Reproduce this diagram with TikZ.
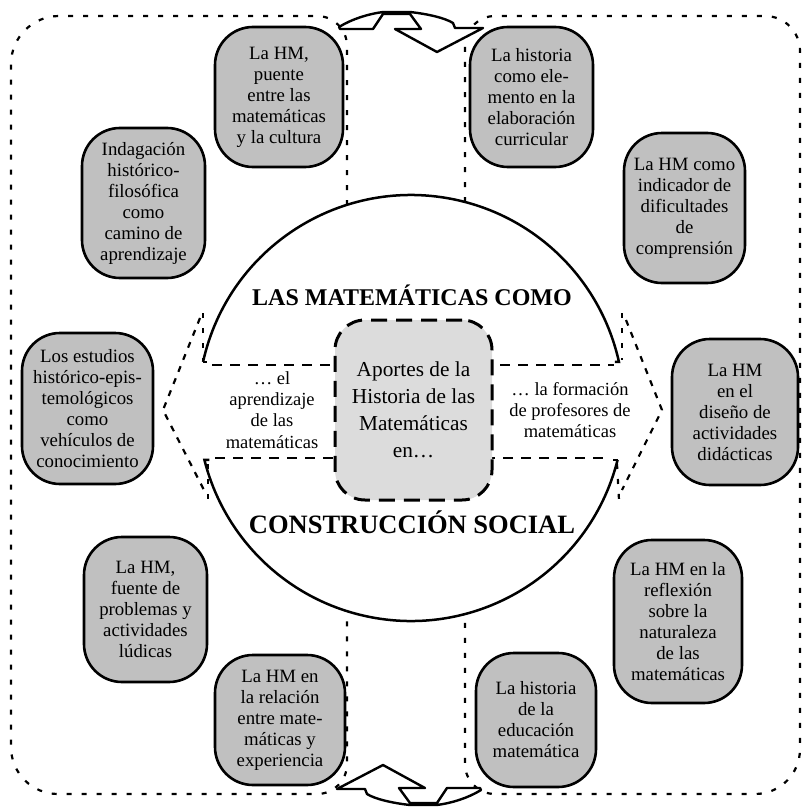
\documentclass[tikz,border=0pt]{standalone}
\usepackage{fontspec}
\setmainfont{Liberation Serif}
\definecolor{boxgray}{HTML}{C0C0C0}
\definecolor{centergray}{HTML}{DCDCDC}
\begin{document}
\begin{tikzpicture}[x=1pt,y=-1pt,
  frame/.style={line width=2.2pt, dash pattern=on 5pt off 10pt},
  chev/.style={line width=2.2pt, dash pattern=on 6pt off 7pt},
  band/.style={line width=2.6pt, dash pattern=on 10pt off 8pt},
  circ/.style={line width=2.5pt},
  arrowshape/.style={draw, fill=white, line width=2.4pt, line join=round},
  gbox/.style={draw, line width=2.6pt, fill=boxgray, rounded corners=38pt, align=center, inner sep=0pt, font=\fontsize{18.8}{21}\selectfont},
  cbox/.style={draw, line width=3pt, dash pattern=on 16pt off 9pt, fill=centergray, rounded corners=30pt, align=center, inner sep=0pt, font=\fontsize{21.3}{27}\selectfont},
  bandtext/.style={align=center, inner sep=0pt, font=\fontsize{18.5}{21.2}\selectfont},
  title/.style={inner sep=0pt, font=\bfseries\fontsize{24}{28}\selectfont}
]
\useasboundingbox (0,0) rectangle (802,808);

% outer frame, left half (open where the circle is)
\draw[frame] (347,205) -- (347,46) .. controls (347,29.4) and (333.6,16) .. (317,16) -- (59,16)
  .. controls (32.5,16) and (11,37.5) .. (11,64) -- (11,747)
  .. controls (11,773) and (32,794) .. (58,794) -- (317,794)
  .. controls (333.6,794) and (347,780.6) .. (347,764) -- (347,611);
% outer frame, right half
\draw[frame] (465,202) -- (465,46) .. controls (465,29.4) and (478.4,16) .. (495,16) -- (765,16)
  .. controls (784.3,16) and (800,31.7) .. (800,51) -- (800,749)
  .. controls (800,773.9) and (779.9,794) .. (755,794) -- (495,794)
  .. controls (478.4,794) and (465,780.6) .. (465,764) -- (465,614);

% top and bottom bent arrows
\path[arrowshape] (339,27) .. controls (352,19) and (368,14) .. (383,12) -- (410,12)
  .. controls (428,14) and (445,18) .. (453,23) -- (455,28) -- (483,28) -- (437,52)
  -- (395,29) -- (421,29) -- (410,14) -- (383,14) -- (373,29) -- (340,29) -- cycle;
\begin{scope}[rotate around={180:(410,408.5)}]
\path[arrowshape] (339,27) .. controls (352,19) and (368,14) .. (383,12) -- (410,12)
  .. controls (428,14) and (445,18) .. (453,23) -- (455,28) -- (483,28) -- (437,52)
  -- (395,29) -- (421,29) -- (410,14) -- (383,14) -- (373,29) -- (340,29) -- cycle;
\end{scope}

% circle arcs
\draw[circ] (411,408) ++(192.5:213) arc[start angle=192.5, end angle=347.5, radius=213] -- ++(-4,0);
\draw[circ] (411,408) ++(14.1:213) arc[start angle=14.1, end angle=165.9, radius=213] -- ++(5,0);
\draw[circ] (411,408) ++(192.5:213) -- ++(4,0);
\draw[circ] (411,408) ++(14.1:213) -- ++(-5,0);

% left and right arrow heads of the band
\draw[frame] (203,313) -- (203,360);
\draw[frame] (208,464) -- (208,504);
\draw[chev] (200,318) -- (163,410) -- (205,492);
\draw[frame] (622,313) -- (622,360);
\draw[frame] (617,464) -- (619,500);
\draw[chev] (626,320) -- (662,410) -- (622,490);

% band
\draw[band] (212,365) -- (614,365);
\draw[band] (215,458) -- (610,458);

% center
\node[cbox, minimum width=157pt, minimum height=180pt] (center) at (413.5,410)
  {Aportes de la\\Historia de las\\Matemáticas\\en…};
\node[bandtext] (left) at (272,410) {… el\\aprendizaje\\de las\\matemáticas};
\node[bandtext] (right) at (570,410) {… la formación\\de profesores de\\matemáticas};

\node[title] (t1) at (412,295) {LAS MATEMÁTICAS COMO};
\node[title, font=\bfseries\fontsize{26.5}{30}\selectfont] (t2) at (412,522) {CONSTRUCCIÓN SOCIAL};

% gray boxes
\node[gbox, minimum width=128pt, minimum height=140pt] (b1) at (279,97)
  {La HM,\\puente\\entre las\\matemáticas\\y la cultura};
\node[gbox, minimum width=123pt, minimum height=140pt] (b2) at (531.5,97)
  {La historia\\como ele-\\mento en la\\elaboración\\curricular};
\node[gbox, minimum width=123pt, minimum height=150pt] (b3) at (143.5,203)
  {Indagación\\histórico-\\filosófica\\como\\camino de\\aprendizaje};
\node[gbox, minimum width=121pt, minimum height=150pt] (b4) at (684.5,208)
  {La HM como\\indicador de\\dificultades\\de\\comprensión};
\node[gbox, minimum width=131pt, minimum height=151pt] (b5) at (87.5,408.5)
  {Los estudios\\histórico-epis-\\temológicos\\como\\vehículos de\\conocimiento};
\node[gbox, minimum width=126pt, minimum height=146pt] (b6) at (735,412)
  {La HM\\en el\\diseño de\\actividades\\didácticas};
\node[gbox, minimum width=123pt, minimum height=145pt] (b7) at (145.5,609.5)
  {La HM,\\fuente de\\problemas y\\actividades\\lúdicas};
\node[gbox, minimum width=128pt, minimum height=163pt] (b8) at (678,621.5)
  {La HM en la\\reflexión\\sobre la\\naturaleza\\de las\\matemáticas};
\node[gbox, minimum width=130pt, minimum height=130pt] (b9) at (280,720)
  {La HM en\\la relación\\entre mate-\\máticas y\\experiencia};
\node[gbox, minimum width=120pt, minimum height=134pt] (b10) at (536,720)
  {La historia\\de la\\educación\\matemática};
\end{tikzpicture}
\end{document}
